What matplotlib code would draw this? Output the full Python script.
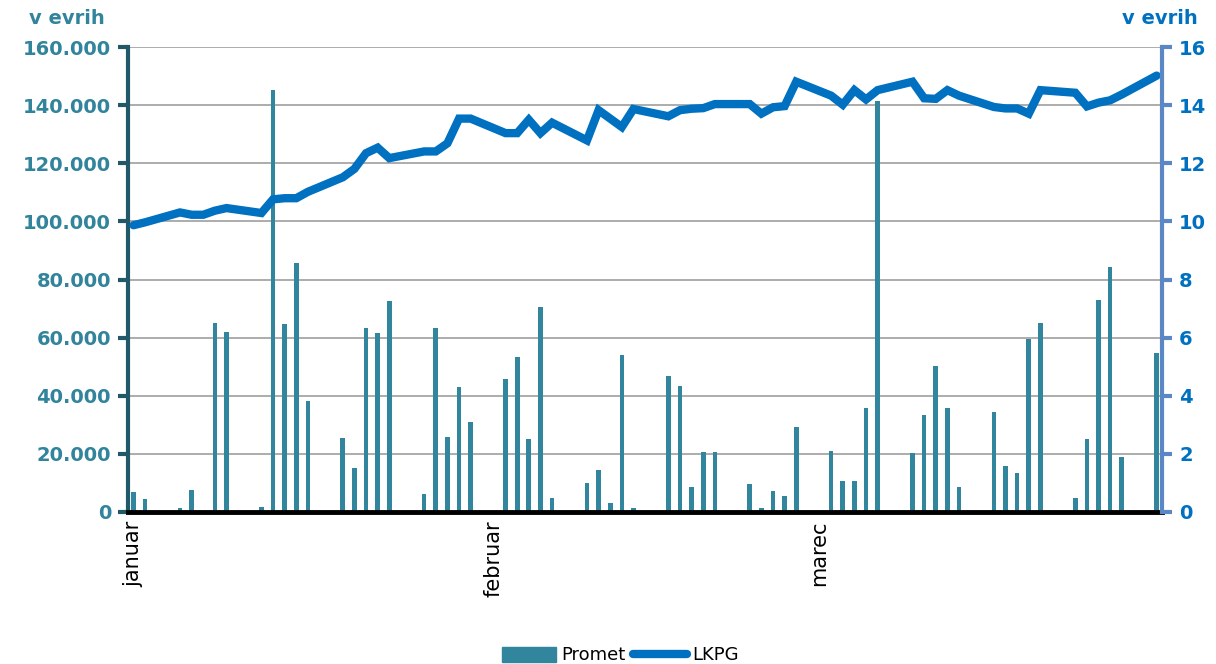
import matplotlib
matplotlib.use('Agg')
import matplotlib.pyplot as plt
from matplotlib.ticker import FuncFormatter
from matplotlib.patches import Patch
from matplotlib.lines import Line2D

# trading days (0 = 1 January), volume in EUR and LKPG price
days = [0, 1, 4, 5, 6, 7, 8, 11, 12, 13, 14, 15, 18, 19, 20, 21, 22,
        25, 26, 27, 28, 29, 32, 33, 34, 35, 36, 39, 40, 41, 42, 43,
        46, 47, 48, 49, 50, 53, 54, 55, 56, 57, 60, 61, 62, 63, 64,
        67, 68, 69, 70, 71, 74, 75, 76, 77, 78, 81, 82, 83, 84, 85, 88]
promet = [6900, 4400, 1500, 7600, 0, 65000, 61800, 1800, 145200, 64700, 85700, 38300,
          25500, 15100, 63200, 61600, 72500, 6100, 63200, 25800, 42900, 30800,
          45900, 53300, 25000, 70400, 4700, 9800, 14400, 3000, 54000, 1200,
          46800, 43300, 8700, 20800, 20800, 9500, 1500, 7300, 5400, 29100,
          21100, 10500, 10800, 35900, 141400, 20400, 33300, 50400, 35900, 8700,
          34400, 15800, 13400, 59700, 65100, 4700, 25000, 72900, 84300, 18900, 54700]
lkpg = [9.87, 9.97, 10.31, 10.23, 10.23, 10.37, 10.46, 10.29, 10.76, 10.8, 10.8, 11.02,
        11.52, 11.81, 12.35, 12.54, 12.18, 12.41, 12.41, 12.69, 13.54, 13.54,
        13.04, 13.04, 13.5, 13.04, 13.4, 12.79, 13.83, 13.54, 13.25, 13.87,
        13.62, 13.83, 13.88, 13.9, 14.04, 14.04, 13.71, 13.93, 13.97, 14.81,
        14.33, 14.02, 14.52, 14.2, 14.52, 14.81, 14.24, 14.22, 14.52, 14.33,
        13.94, 13.89, 13.89, 13.71, 14.52, 14.43, 13.96, 14.09, 14.17, 14.37, 15.02]
month_pos = [0, 31, 59]
month_names = ['januar', 'februar', 'marec']

bar_col = '#31859C'
line_col = '#0070C0'
left_col = '#31849B'
left_spine = '#215968'
right_spine = '#5B87C5'

fig, ax = plt.subplots(figsize=(12.16, 6.64), dpi=100)
fig.subplots_adjust(left=0.105, right=0.956, top=0.929, bottom=0.229)

ax.bar(days, promet, width=0.4, color=bar_col, zorder=2)
ax.set_xlim(-0.5, 88.5)
ax.set_ylim(0, 160000)
ax.set_yticks(range(0, 160001, 20000))
ax.yaxis.set_major_formatter(FuncFormatter(lambda v, p: '{:,.0f}'.format(v).replace(',', '.')))
ax.yaxis.grid(True, color='#A6A6A6', linewidth=1.3)
ax.set_axisbelow(True)

ax.set_xticks(month_pos)
ax.set_xticklabels(month_names, rotation=90, va='top', ha='center', fontsize=15)
ax.tick_params(axis='x', length=0, pad=6)
ax.tick_params(axis='y', colors=left_spine, labelcolor=left_col, length=7, width=3,
               labelsize=14, pad=5)
for lab in ax.get_yticklabels():
    lab.set_fontweight('bold')

ax.spines['top'].set_visible(False)
ax.spines['right'].set_visible(False)
ax.spines['left'].set_color(left_spine)
ax.spines['left'].set_linewidth(3)
ax.spines['bottom'].set_color('black')
ax.spines['bottom'].set_linewidth(3.5)
ax.spines['bottom'].set_zorder(5)

ax2 = ax.twinx()
ax2.plot(days, lkpg, color=line_col, linewidth=6, solid_capstyle='round',
         solid_joinstyle='miter')
ax2.set_ylim(0, 16)
ax2.set_yticks(range(0, 17, 2))
ax2.tick_params(axis='y', colors=right_spine, labelcolor=line_col, length=7, width=3,
                labelsize=14, pad=5)
for lab in ax2.get_yticklabels():
    lab.set_fontweight('bold')
for s in ['top', 'left', 'bottom']:
    ax2.spines[s].set_visible(False)
ax2.spines['right'].set_color(right_spine)
ax2.spines['right'].set_linewidth(3)

fig.text(0.0865, 0.972, 'v evrih', ha='right', va='center', color=left_col,
         fontsize=14, fontweight='bold')
fig.text(0.985, 0.972, 'v evrih', ha='right', va='center', color=line_col,
         fontsize=14, fontweight='bold')

handles = [Patch(color=bar_col), Line2D([0], [0], color=line_col, linewidth=6,
                                       solid_capstyle='round')]
fig.legend(handles, ['Promet', 'LKPG'], loc='center', bbox_to_anchor=(0.51, 0.013),
           ncol=2, frameon=False, fontsize=13, handlelength=3.0, handleheight=0.9,
           columnspacing=0.4, handletextpad=0.3)

fig.savefig('out.png', dpi=100)
